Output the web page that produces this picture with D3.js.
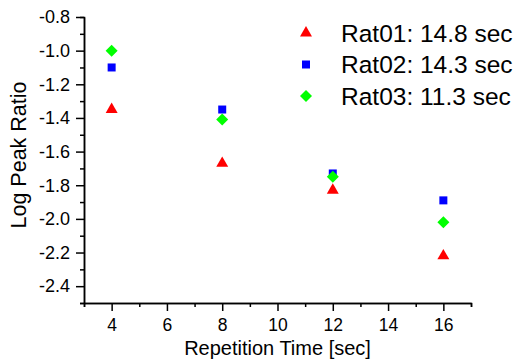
<!DOCTYPE html>
<html>
<head>
<meta charset="utf-8">
<script src="https://cdn.jsdelivr.net/npm/d3@7"></script>
<style>
  body { margin: 0; background: #fff; }
  svg { font-family: "Liberation Sans", Arial, sans-serif; }
</style>
</head>
<body>
<div id="chart"></div>
<script>
const width = 521;
const height = 360;

const times = [4, 8, 12, 16];
const rat01 = [-1.35, -1.67, -1.83, -2.22];
const rat02 = [-1.10, -1.35, -1.73, -1.89];
const rat03 = [-1.00, -1.41, -1.75, -2.02];
const seriesNames = ["Rat01: 14.8 sec", "Rat02: 14.3 sec", "Rat03: 11.3 sec"];
const xTicks = [4, 6, 8, 10, 12, 14, 16];
const yTicks = [-0.8, -1.0, -1.2, -1.4, -1.6, -1.8, -2.0, -2.2, -2.4];

const margin = { left: 84, right: 50, top: 17, bottom: 57 };

const svg = d3.select("#chart")
  .append("svg")
  .attr("width", width)
  .attr("height", height);

const x = d3.scaleLinear().domain([3, 17]).range([margin.left, width - margin.right]);
const y = d3.scaleLinear().domain([-2.5, -0.8]).range([height - margin.bottom, margin.top]);

// minor ticks first, then major axes on top
const xMinor = d3.axisBottom(x).tickValues(d3.range(3, 18, 2)).tickSize(4).tickFormat("");
const yMinor = d3.axisLeft(y).tickValues(d3.range(-2.5, -0.75, 0.2)).tickSize(4).tickFormat("");

svg.append("g")
  .attr("transform", `translate(0,${height - margin.bottom})`)
  .call(xMinor);
svg.append("g")
  .attr("transform", `translate(${margin.left},0)`)
  .call(yMinor);

const xAxis = svg.append("g")
  .attr("transform", `translate(0,${height - margin.bottom})`)
  .call(d3.axisBottom(x).tickValues(xTicks).tickSize(8).tickPadding(8).tickSizeOuter(0));

const yAxis = svg.append("g")
  .attr("transform", `translate(${margin.left},0)`)
  .call(d3.axisLeft(y).tickValues(yTicks).tickSize(8).tickPadding(6).tickSizeOuter(0)
    .tickFormat(d3.format(".1f")));

svg.selectAll(".domain").attr("stroke", "#000").attr("stroke-width", 1.5);
svg.selectAll(".tick line").attr("stroke", "#000").attr("stroke-width", 1.5);
svg.selectAll(".tick text")
  .attr("font-size", "18px")
  .attr("font-family", "Liberation Sans, Arial, sans-serif")
  .attr("fill", "#000");
xAxis.selectAll(".tick text").attr("font-size", "17.5px");
yAxis.selectAll(".tick text").text((d) => d3.format(".1f")(d).replace("−", "-"));

// axis titles
svg.append("text")
  .attr("x", (margin.left + width - margin.right) / 2)
  .attr("y", 355)
  .attr("text-anchor", "middle")
  .attr("font-size", "20px")
  .text("Repetition Time [sec]");

svg.append("text")
  .attr("transform", "translate(26,155) rotate(-90)")
  .attr("text-anchor", "middle")
  .attr("font-size", "21.5px")
  .text("Log Peak Ratio");

// markers
const shapes = [
  { type: d3.symbolTriangle, size: 62, color: "#ff0000", rot: 0 },
  { type: d3.symbolSquare, size: 64, color: "#0000ff", rot: 0 },
  { type: d3.symbolSquare, size: 72, color: "#00ff00", rot: 45 },
];
const allSeries = [rat01, rat02, rat03];

allSeries.forEach((vals, s) => {
  const sh = shapes[s];
  svg.append("g")
    .selectAll("path")
    .data(vals)
    .enter()
    .append("path")
    .attr("d", d3.symbol().type(sh.type).size(sh.size))
    .attr("fill", sh.color)
    .attr("transform", (d, i) => `translate(${x(times[i])},${y(d)}) rotate(${sh.rot})`);
});

// legend
const legend = svg.append("g");
seriesNames.forEach((name, s) => {
  const sh = shapes[s];
  const cy = 33 + s * 31.5;
  legend.append("path")
    .attr("d", d3.symbol().type(sh.type).size(sh.size))
    .attr("fill", sh.color)
    .attr("transform", `translate(306,${cy}) rotate(${sh.rot})`);
  legend.append("text")
    .attr("x", 341)
    .attr("y", cy + 8.7)
    .attr("font-size", "24.5px")
    .text(name);
});
</script>
</body>
</html>
